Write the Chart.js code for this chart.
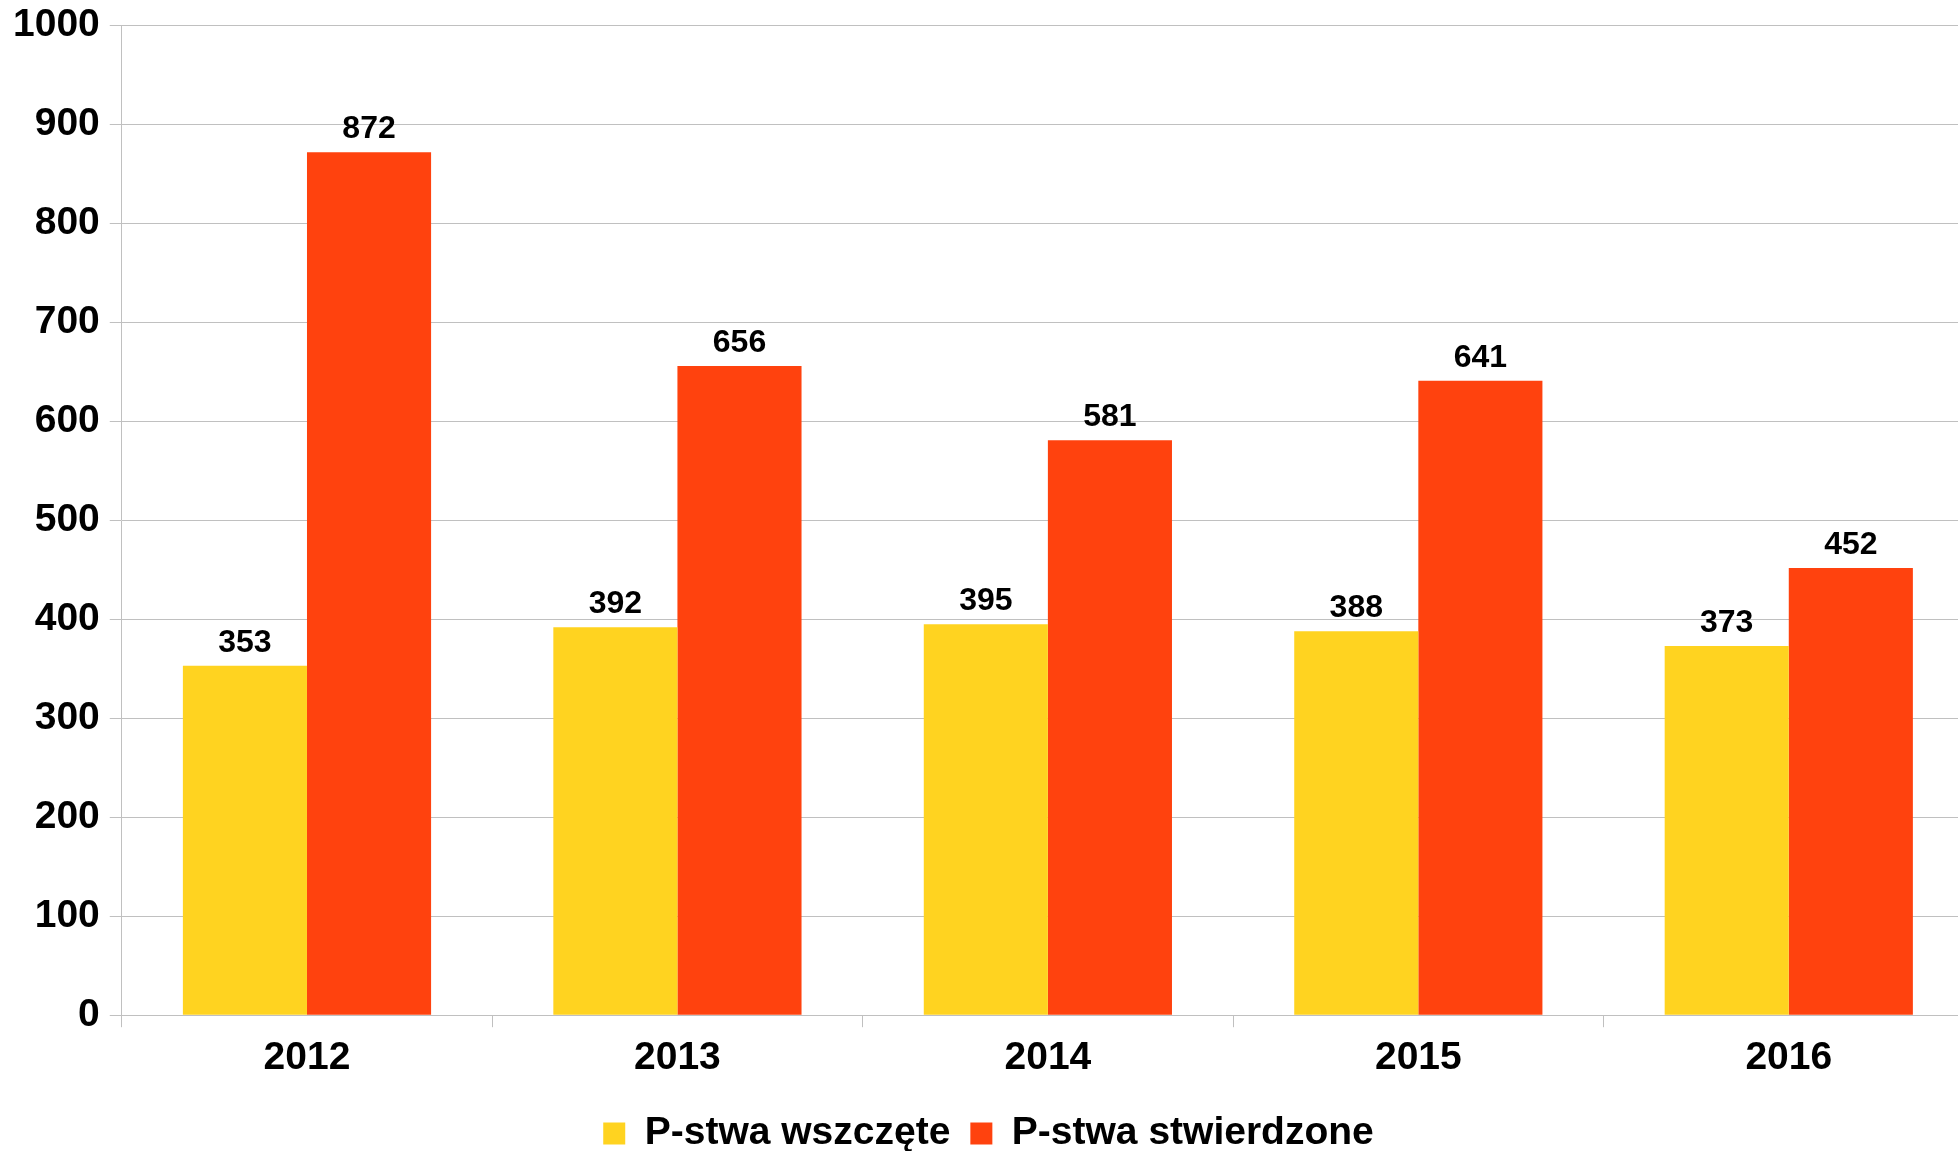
<!DOCTYPE html>
<html>
<head>
<meta charset="utf-8">
<script src="https://cdn.jsdelivr.net/npm/chart.js@4/dist/chart.umd.min.js"></script>
<style>
  html, body { margin: 0; padding: 0; background: #fff; overflow: hidden; }
  #wrap { position: absolute; left: 0; top: 0; width: 1974px; height: 1151px; }
</style>
</head>
<body>
<div id="wrap"><canvas id="c"></canvas></div>
<script>
// dane
const years       = ['2012', '2013', '2014', '2015', '2016'];
const wszczete    = [353, 392, 395, 388, 373];
const stwierdzone = [872, 656, 581, 641, 452];
const yTicks      = [0, 100, 200, 300, 400, 500, 600, 700, 800, 900, 1000];

const YELLOW = '#ffd320';
const RED    = '#ff420e';
const GRID   = '#c0c0c0';
const FONT   = "'Liberation Sans', Arial, sans-serif";

// etykiety wartości nad słupkami
const valueLabels = {
  id: 'valueLabels',
  afterDatasetsDraw(chart) {
    const ctx = chart.ctx;
    ctx.save();
    ctx.font = 'bold 32px ' + FONT;
    ctx.fillStyle = '#000';
    ctx.textAlign = 'center';
    ctx.textBaseline = 'alphabetic';
    chart.data.datasets.forEach((ds, i) => {
      chart.getDatasetMeta(i).data.forEach((bar, j) => {
        ctx.fillText(String(ds.data[j]), bar.x, bar.y - 14);
      });
    });
    ctx.restore();
  },
};

Chart.defaults.font.family = FONT;
Chart.defaults.color = '#000';

new Chart(document.getElementById('c'), {
  type: 'bar',
  data: {
    labels: years,
    datasets: [
      {label: 'P-stwa wszczęte',    data: wszczete,    backgroundColor: YELLOW, borderWidth: 0},
      {label: 'P-stwa stwierdzone', data: stwierdzone, backgroundColor: RED,    borderWidth: 0},
    ],
  },
  options: {
    responsive: true,
    maintainAspectRatio: false,
    animation: false,
    layout: {padding: {left: 3, top: 0, right: 0, bottom: -12}},
    datasets: {bar: {categoryPercentage: 0.67, barPercentage: 1}},
    plugins: {
      legend: {
        position: 'bottom',
        labels: {
          boxWidth: 22, boxHeight: 22, padding: 20,
          font: {size: 39, weight: 'bold'},
          color: '#000',
        },
      },
      tooltip: {enabled: false},
    },
    scales: {
      x: {
        grid: {display: true, drawOnChartArea: false, drawTicks: true, tickLength: 12, color: GRID, offset: true},
        border: {color: GRID, width: 1},
        ticks: {font: {size: 39, weight: 'bold'}, color: '#000', padding: 8},
        afterFit: ax => { ax.height += 4; },
      },
      y: {
        min: 0, max: 1000,
        afterBuildTicks: ax => { ax.ticks = yTicks.map(v => ({value: v})); },
        grid: {color: GRID, lineWidth: 1, tickLength: 12, drawTicks: true},
        border: {color: GRID, width: 1},
        ticks: {font: {size: 39, weight: 'bold', lineHeight: 0.8}, color: '#000', padding: 10, callback: v => String(v)},
      },
    },
  },
  plugins: [valueLabels],
});
</script>
</body>
</html>
